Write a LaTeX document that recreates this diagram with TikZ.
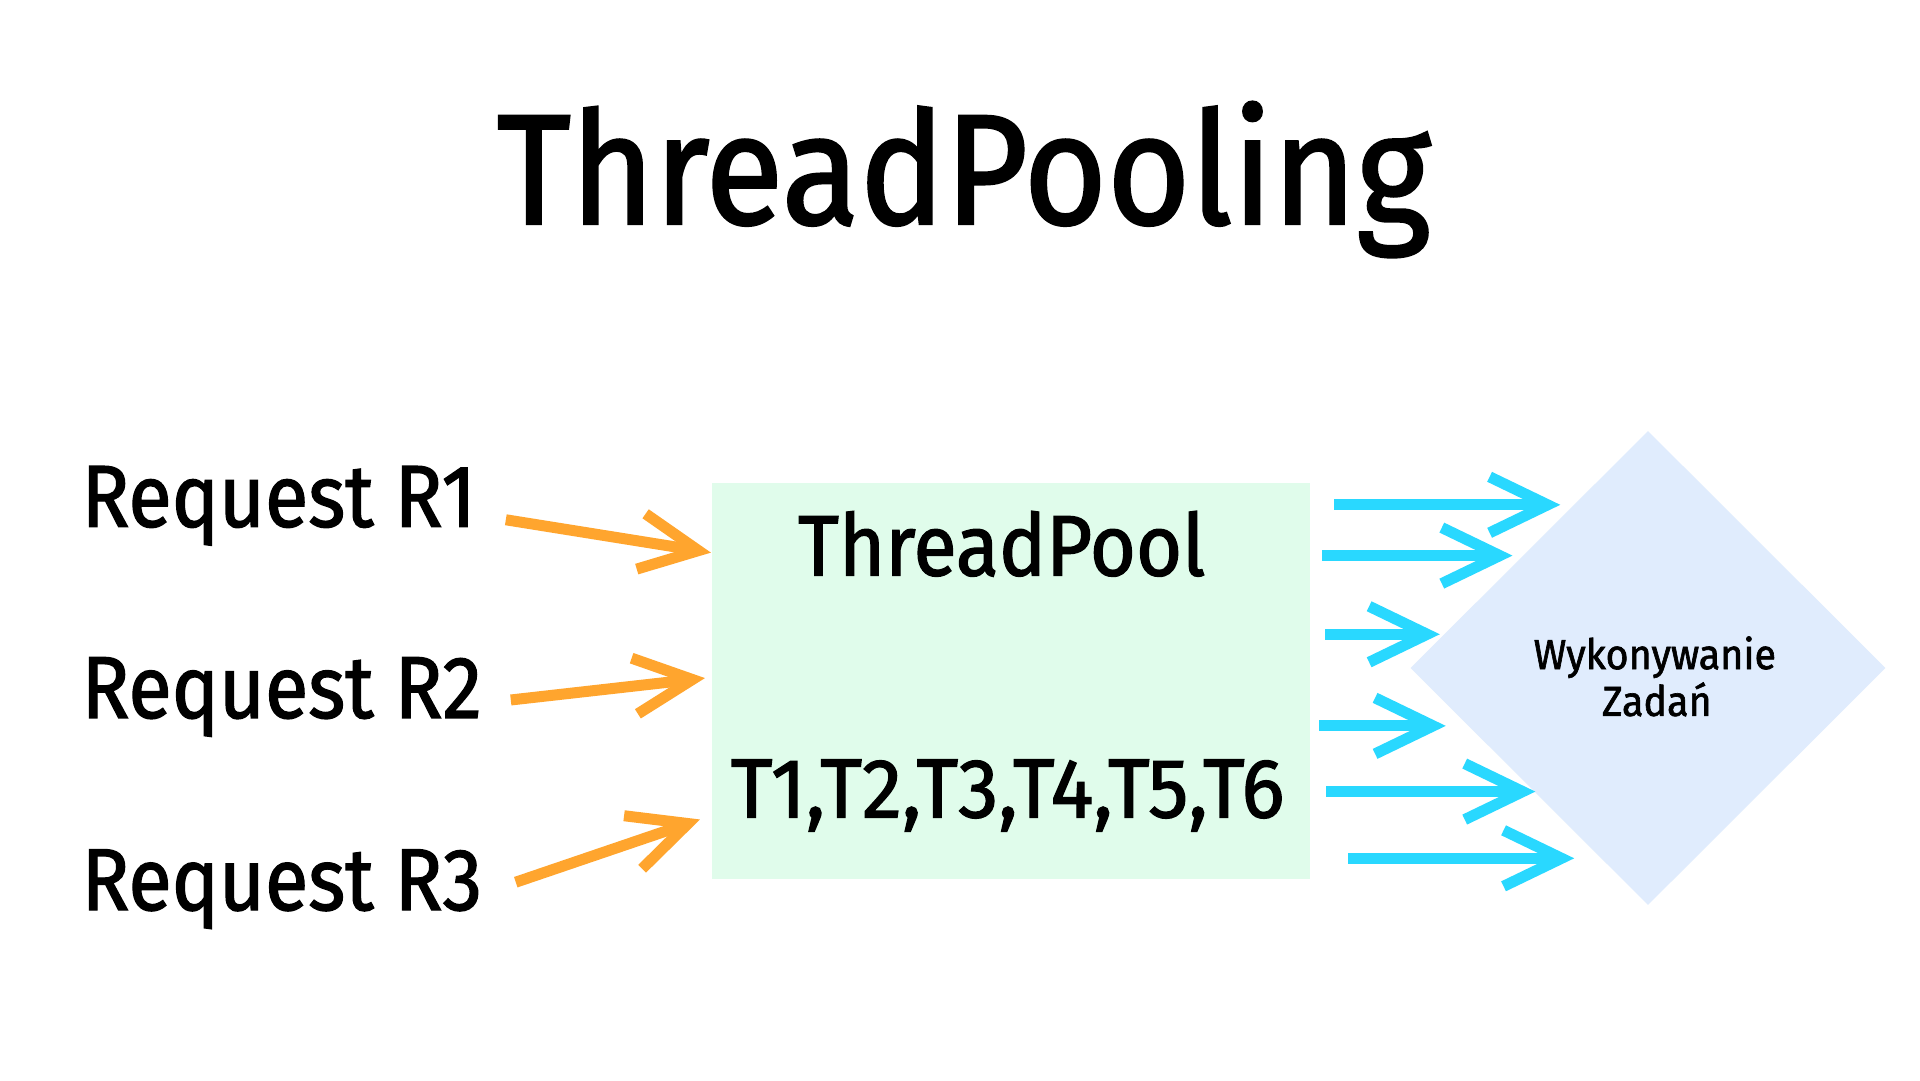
\documentclass[tikz,border=0pt]{standalone}
\usepackage{fontspec}
\setmainfont{Fira Sans}[FakeStretch=0.9,FakeBold=1.5]
\newfontfamily\titlefont{Fira Sans}[FakeStretch=0.91,FakeBold=1.5]
\newfontfamily\reqfont{Fira Sans}[FakeStretch=0.9,FakeBold=1.5]
\newfontfamily\poolfont{Fira Sans}[FakeStretch=0.92,FakeBold=1.5]
\newfontfamily\thrfont{Fira Sans}[FakeStretch=0.96,FakeBold=1.5]
\newfontfamily\taskfont{Fira Sans}[FakeStretch=0.94,FakeBold=1.5]
\usetikzlibrary{shapes.geometric,arrows.meta}
\definecolor{poolgreen}{HTML}{E0FCEB}
\definecolor{taskblue}{HTML}{E0ECFD}
\definecolor{reqorange}{HTML}{FFA52E}
\definecolor{thrcyan}{HTML}{29D8FF}
\tikzset{
  txt/.style={inner sep=0pt, outer sep=0pt, text=black},
  reqarrow/.style={draw=reqorange, line width=11pt, -{Straight Barb[length=58pt,width=56pt]}},
  thrarrow/.style={draw=thrcyan, line width=11pt, -{Straight Barb[length=58pt,width=56pt]}},
}
\begin{document}
\begin{tikzpicture}[x=1pt,y=-1pt]
  \fill[white] (0,0) rectangle (1920,1080);
  \useasboundingbox (0,0) rectangle (1920,1080);
  % pool box
  \node[fill=poolgreen, draw=none, minimum width=598pt, minimum height=396pt, inner sep=0pt, anchor=north west] (pool) at (712,483) {};
  % task diamond
  \node[diamond, fill=taskblue, draw=none, minimum width=475pt, minimum height=474pt, inner sep=0pt] (task) at (1648,668) {};
  \begin{scope}[scale=0.9957]
  % title
  \node[txt, anchor=base] (title) at (968,225) {\titlefont\fontsize{157}{180}\selectfont ThreadPooling};
  \node[txt, anchor=base] (pooltitle) at (1006,578) {\poolfont\fontsize{86}{100}\selectfont ThreadPool};
  \node[txt, anchor=base] (threads) at (1012,821) {\thrfont\fontsize{84}{100}\selectfont T1,T2,T3,T4,T5,T6};
  \node[txt, anchor=base] (tasktext1) at (1662,672) {\taskfont\fontsize{42}{48}\selectfont Wykonywanie};
  \node[txt, anchor=base] (tasktext2) at (1664,719) {\taskfont\fontsize{42}{48}\selectfont Zadań};
  % requests
  \node[txt, anchor=base west] (r1) at (82,529) {\reqfont\fontsize{88}{100}\selectfont Request R1};
  \node[txt, anchor=base west] (r2) at (82,721) {\reqfont\fontsize{88}{100}\selectfont Request R2};
  \node[txt, anchor=base west] (r3) at (82,914) {\reqfont\fontsize{88}{100}\selectfont Request R3};
  % arrow end points
  \coordinate (a1s) at (508,522); \coordinate (a1e) at (714,555);
  \coordinate (a2s) at (513,703); \coordinate (a2e) at (708,681);
  \coordinate (a3s) at (518,886); \coordinate (a3e) at (703,823);
  \coordinate (b1s) at (1340,507); \coordinate (b1e) at (1567,507);
  \coordinate (b2s) at (1328,558); \coordinate (b2e) at (1519,558);
  \coordinate (b3s) at (1331,637); \coordinate (b3e) at (1446,637);
  \coordinate (b4s) at (1325,729); \coordinate (b4e) at (1452,729);
  \coordinate (b5s) at (1332,795); \coordinate (b5e) at (1542,795);
  \coordinate (b6s) at (1354,862); \coordinate (b6e) at (1581,862);
  \end{scope}
  \draw[reqarrow] (a1s) -- (a1e);
  \draw[reqarrow] (a2s) -- (a2e);
  \draw[reqarrow] (a3s) -- (a3e);
  \foreach \i in {1,...,6} {\draw[thrarrow] (b\i s) -- (b\i e);}
\end{tikzpicture}
\end{document}
